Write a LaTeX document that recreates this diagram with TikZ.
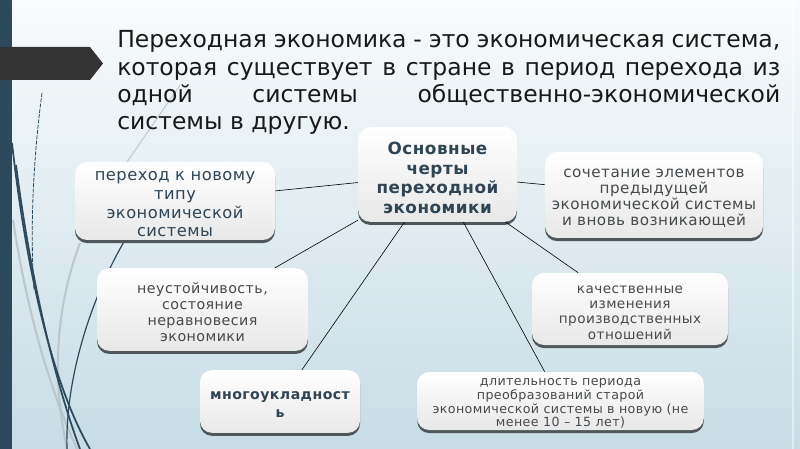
\documentclass[tikz,border=0pt]{standalone}
\usepackage{fontspec}
\setmainfont{DejaVu Sans}
\newfontfamily\lsfont{DejaVu Sans}[LetterSpace=3]
\usetikzlibrary{shadows}
\definecolor{barc}{HTML}{2C4A5C}
\definecolor{arrowc}{HTML}{333333}
\definecolor{bgtop}{HTML}{F9FBFC}
\definecolor{bgbot}{HTML}{C6DDE5}
\definecolor{slate}{HTML}{2E4555}
\definecolor{gtxt}{HTML}{464A4C}
\definecolor{shadowc}{HTML}{50575A}
\definecolor{decolight}{HTML}{B4C2C7}
\begin{document}
\begin{tikzpicture}[x=0.75pt,y=-0.75pt,
  box/.style={rounded corners=9pt, top color=white, bottom color=black!9,
    drop shadow={shadow xshift=0pt, shadow yshift=-2.3pt, fill=shadowc, opacity=1},
    inner sep=0pt},
  boxtext/.style={align=center, inner sep=0pt, font=\lsfont},
  link/.style={draw=black, line width=0.45pt},
  decodark/.style={draw=barc, line width=1.3pt},
  decothin/.style={draw=barc, line width=0.6pt},
  decogray/.style={draw=decolight, line width=1.6pt, opacity=0.8}]
% background
\shade[top color=bgtop, bottom color=bgbot] (0,0) rectangle (800,449);
\useasboundingbox (0,0) rectangle (800,449);
\draw[white, opacity=0.5, line width=1pt] (793,0) -- (793,449);
% decorative curves
\draw[decogray] (13,220) .. controls (30,330) and (55,400) .. (77,449);
\draw[decogray] (80,243) .. controls (55,310) and (52,380) .. (67,449);
\draw[decogray, line width=0.8pt] (180,85) -- (127,162);
\draw[decodark] (12,143) .. controls (25,260) and (50,380) .. (90,449);
\draw[decodark] (16,165) .. controls (32,290) and (58,390) .. (80,449);
\draw[decothin, line width=0.9pt] (125,240) .. controls (90,300) and (65,380) .. (67,449);
\draw[decothin, dash pattern=on 3pt off 1pt] (42,93) .. controls (33,160) and (30,230) .. (34,290);
% left bar and arrow
\fill[barc] (0,0) rectangle (12,449);
\fill[arrowc] (0,47) -- (90,47) -- (103,63.5) -- (90,80) -- (0,80) -- cycle;
% title
\node[anchor=north west, inner sep=0pt, text width=497.25pt, align=justify,
  font=\fontsize{17.6}{20.5}\selectfont, text=black!90] (title) at (117,30.5)
  {\hyphenpenalty=10000 Переходная экономика - это экономическая система,\linebreak
   которая существует в стране в период перехода из\linebreak
   одной системы общественно-экономической\linebreak
   системы в другую.};
% boxes
\node[box, minimum width=119pt, minimum height=71pt] (c) at (437.5,174.5) {};
\node[boxtext, text=slate, font=\lsfont\fontsize{12.6}{14.8}\selectfont\bfseries]
  (ct) at ([yshift=-2.5pt]c.center) {Основные\\черты\\переходной\\экономики};
\node[box, minimum width=150pt, minimum height=58.5pt] (b2) at (175,201) {};
\node[boxtext, text=slate, font=\lsfont\fontsize{12.2}{14}\selectfont]
  (b2t) at ([yshift=-2.5pt]b2.center) {переход к новому\\типу\\экономической\\системы};
\node[box, minimum width=163.5pt, minimum height=64.5pt] (b3) at (654,195) {};
\node[boxtext, text=gtxt, font=\lsfont\fontsize{11.4}{11.8}\selectfont]
  (b3t) at ([yshift=-2.5pt]b3.center) {сочетание элементов\\предыдущей\\экономической системы\\и вновь возникающей};
\node[box, minimum width=158pt, minimum height=62pt] (b4) at (202.5,309.5) {};
\node[boxtext, text=gtxt, font=\lsfont\fontsize{10.7}{11.8}\selectfont]
  (b4t) at ([yshift=-2pt]b4.center) {неустойчивость,\\состояние\\неравновесия\\экономики};
\node[box, minimum width=120pt, minimum height=47pt] (b5) at (280,401.5) {};
\node[boxtext, text=slate, font=\lsfont\fontsize{10.6}{13.5}\selectfont\bfseries]
  (b5t) at ([yshift=-2.5pt]b5.center) {многоукладност\\ь};
\node[box, minimum width=147pt, minimum height=54pt] (b6) at (630,309) {};
\node[boxtext, text=gtxt, font=\lsfont\fontsize{10.2}{11.5}\selectfont]
  (b6t) at ([yshift=-2.5pt]b6.center) {качественные\\изменения\\производственных\\отношений};
\node[box, minimum width=215pt, minimum height=43.5pt] (b7) at (560.5,401) {};
\node[boxtext, text=gtxt, font=\lsfont\fontsize{9.5}{10.3}\selectfont]
  (b7t) at ([yshift=-2pt]b7.center) {длительность периода\\преобразований старой\\экономической системы в новую (не\\менее 10 – 15 лет)};
% connectors
\draw[link] (c) -- (b2);
\draw[link] (c) -- (b3);
\draw[link] (c) -- (b4);
\draw[link] (c) -- (b5);
\draw[link] (c) -- (b6);
\draw[link] (c) -- (b7);
\end{tikzpicture}
\end{document}
